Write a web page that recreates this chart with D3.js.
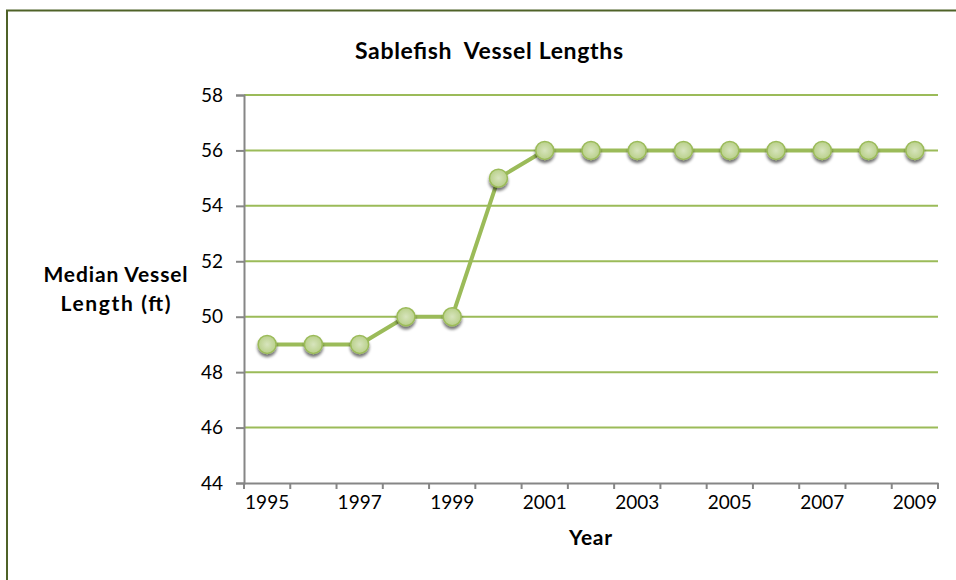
<!DOCTYPE html>
<html><head><meta charset="utf-8">
<script src="https://cdn.jsdelivr.net/npm/d3@7"></script>
<style>html,body{margin:0;padding:0;background:#fff;}svg{display:block;}</style>
</head><body>
<svg id="c" width="956" height="580"></svg>
<script>
const years = ["1995","1996","1997","1998","1999","2000","2001","2002","2003","2004","2005","2006","2007","2008","2009"];
const lengths = [49,49,49,50,50,55,56,56,56,56,56,56,56,56,56];
const yTicks = [44,46,48,50,52,54,56,58];
const xLabelYears = ["1995","1997","1999","2001","2003","2005","2007","2009"];
const titleText = "Sablefish\u00a0 Vessel Lengths";
const yTitleLines = ["Median Vessel","Length (ft)"];
const xTitleText = "Year";

const svg = d3.select("#c");
const font = "Lato, 'Open Sans', sans-serif";
const defs = svg.append("defs");
const f = defs.append("filter").attr("id","sh").attr("x","-50%").attr("y","-50%").attr("width","200%").attr("height","200%");
f.append("feGaussianBlur").attr("in","SourceAlpha").attr("stdDeviation",1.6).attr("result","b");
f.append("feOffset").attr("in","b").attr("dx",0).attr("dy",2.5).attr("result","o");
f.append("feComponentTransfer").attr("in","o").attr("result","o2").append("feFuncA").attr("type","linear").attr("slope",0.55);
const m = f.append("feMerge"); m.append("feMergeNode").attr("in","o2"); m.append("feMergeNode").attr("in","SourceGraphic");

// frame
svg.append("rect").attr("x",7).attr("y",10.5).attr("width",960).attr("height",600)
  .attr("fill","none").attr("stroke","#4f6228").attr("stroke-width",2);

const L=244, R=938, T=95, B=483;
const x = d3.scaleBand().domain(years).range([L,R]).padding(0);
const y = d3.scaleLinear().domain([44,58]).range([B,T]);

// gridlines
svg.append("g").selectAll("line").data(yTicks.filter(v=>v>44)).join("line")
  .attr("x1",L).attr("x2",R).attr("y1",d=>y(d)).attr("y2",d=>y(d))
  .attr("stroke","#9bbb59").attr("stroke-width",2);

// y axis
const ya = svg.append("g").attr("transform",`translate(${L},0)`)
  .call(d3.axisLeft(y).tickValues(yTicks).tickSize(8).tickPadding(13));
ya.select(".domain").attr("stroke","#868686").attr("stroke-width",2);
ya.selectAll(".tick line").attr("stroke","#868686").attr("stroke-width",2);
ya.selectAll(".tick text").attr("font-family",font).attr("font-size",19).attr("fill","#000");

// x axis
const xa = svg.append("g").attr("transform",`translate(0,${B})`)
  .call(d3.axisBottom(x).tickSize(0).tickPadding(13).tickFormat(d=>xLabelYears.includes(d)?d:""));
xa.select(".domain").attr("stroke","#868686").attr("stroke-width",2);
xa.selectAll(".tick text").attr("font-family",font).attr("font-size",19).attr("fill","#000");
const bounds = years.map(d=>x(d)).concat([x(years[years.length-1])+x.bandwidth()]);
xa.selectAll(".bt").data(bounds).join("line").attr("class","bt")
  .attr("x1",d=>d).attr("x2",d=>d).attr("y1",0).attr("y2",6)
  .attr("stroke","#868686").attr("stroke-width",2);

// line
const cx = d=>x(d)+x.bandwidth()/2;
svg.append("path").datum(lengths)
  .attr("d",d3.line().x((d,i)=>cx(years[i])).y(d=>y(d)))
  .attr("fill","none").attr("stroke","#9bbb59").attr("stroke-width",4).attr("stroke-linejoin","round");

// markers
const rg = defs.append("radialGradient").attr("id","mg");
rg.append("stop").attr("offset","0%").attr("stop-color","#d7e4bd");
rg.append("stop").attr("offset","100%").attr("stop-color","#b9d08a");
svg.append("g").selectAll("circle").data(lengths).join("circle")
  .attr("cx",(d,i)=>cx(years[i])).attr("cy",d=>y(d)).attr("r",9)
  .attr("fill","url(#mg)").attr("stroke","#9bbb59").attr("stroke-width",1.5)
  .attr("filter","url(#sh)");

// titles
svg.append("text").attr("x",489).attr("y",59).attr("text-anchor","middle")
  .attr("font-family",font).attr("font-weight","bold").attr("font-size",23)
  .attr("textLength",268).attr("lengthAdjust","spacing").text(titleText);
svg.append("g").selectAll("text").data(yTitleLines).join("text")
  .attr("x",115.5).attr("y",(d,i)=>282+i*29).attr("text-anchor","middle")
  .attr("font-family",font).attr("font-weight","bold").attr("font-size",21)
  .attr("textLength",(d,i)=>i===0?144:110).attr("lengthAdjust","spacing").text(d=>d);
svg.append("text").attr("x",590.5).attr("y",545).attr("text-anchor","middle")
  .attr("font-family",font).attr("font-weight","bold").attr("font-size",21)
  .attr("textLength",43).attr("lengthAdjust","spacing").text(xTitleText);
</script>
</body></html>
